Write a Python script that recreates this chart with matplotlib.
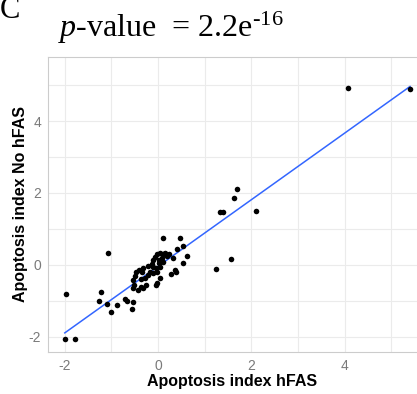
#!/usr/bin/env python3
"""Scatter of apoptosis index with and without hFAS, with linear fit."""
import matplotlib
matplotlib.use("Agg")
import matplotlib.pyplot as plt
import numpy as np

# apoptosis index values
hfas = [
    -2.00, -1.78, -1.97, -1.07, -1.22, -1.26, -1.10, -1.01, -0.89, -0.70,
    -0.67, -0.53, -0.57,
    0.11, 0.46, 0.40, 0.54, 0.62, 0.54, 0.31, 0.37, 0.39, 0.27,
    0.04, -0.03, -0.05, -0.26, -0.32, -0.37, -0.44, -0.53, -0.52, -0.53,
    -0.49, -0.47, -0.42, -0.35, -0.37, -0.28, -0.32, -0.21, -0.14, -0.10,
    -0.06, -0.03, 0.04, 0.10, 0.15, 0.20, 0.24, 0.08, 0.01, 0.03,
    0.11, -0.10, -0.04, 0.04, -0.17, -0.10, -0.21, -0.03,
    1.24, 1.57, 1.33, 1.40, 2.09, 1.62, 1.69, 4.08, 5.40,
]
no_hfas = [
    -2.06, -2.06, -0.81, 0.34, -0.76, -0.99, -1.08, -1.30, -1.10, -0.95,
    -0.99, -1.04, -1.23,
    0.76, 0.74, 0.44, 0.54, 0.26, 0.05, 0.19, -0.14, -0.21, -0.26,
    -0.35, -0.51, -0.56, -0.57, -0.65, -0.60, -0.69, -0.65, -0.56, -0.42,
    -0.30, -0.19, -0.14, -0.19, -0.39, -0.37, -0.09, -0.02, 0.02, 0.14,
    0.23, 0.30, 0.32, 0.30, 0.32, 0.26, 0.30, 0.19, 0.14, 0.05,
    0.09, -0.05, -0.09, -0.07, -0.19, -0.23, -0.28, -0.19,
    -0.12, 0.16, 1.46, 1.46, 1.50, 1.85, 2.11, 4.91, 4.88,
]

x_ticks = [-2, 0, 2, 4]
y_ticks = [-2, 0, 2, 4]
title_text = r"$\mathit{p}$-value  = 2.2e$^{\text{-16}}$"
panel_letter = "C"

plt.rcParams["mathtext.fontset"] = "custom"
plt.rcParams["mathtext.rm"] = "Liberation Serif"
plt.rcParams["mathtext.it"] = "Liberation Serif:italic"
plt.rcParams["axes.unicode_minus"] = False

fig = plt.figure(figsize=(4.17, 3.94), dpi=100)
ax = fig.add_axes([48 / 417, 42 / 394, 1 - 48 / 417, (352 - 57) / 394])

x = np.array(hfas)
y = np.array(no_hfas)
slope, intercept = np.polyfit(x, y, 1)
xs = np.array([x.min(), x.max()])

ax.scatter(x, y, s=16, color="black", linewidths=0, zorder=3)
ax.plot(xs, slope * xs + intercept, color="#3366FF", lw=1.1, zorder=2)

ax.set_xlim(-2.36, 5.55)
ax.set_ylim(-2.42, 5.78)
ax.set_xticks(x_ticks)
ax.set_yticks(y_ticks)
ax.set_xticks([-1, 1, 3, 5], minor=True)
ax.set_yticks([-1, 1, 3, 5], minor=True)
ax.grid(True, which="both", color="#ebebeb", lw=0.8)
ax.set_axisbelow(True)
ax.tick_params(which="both", length=0, labelsize=10, labelcolor="#7a7a7a", pad=5)

for side in ["left", "bottom", "top"]:
    ax.spines[side].set_color("#cccccc")
    ax.spines[side].set_linewidth(0.8)
ax.spines["right"].set_visible(False)

ax.set_xlabel("Apoptosis index hFAS", fontsize=11.5, fontweight="bold",
              family="Liberation Sans", labelpad=1)
ax.set_ylabel("Apoptosis index No hFAS", fontsize=11.5, fontweight="bold",
              family="Liberation Sans")
ax.yaxis.set_label_coords(-0.054, 0.5)
for lab in ax.get_xticklabels() + ax.get_yticklabels():
    lab.set_family("Liberation Sans")

fig.text(58 / 417, 1 - 37 / 394, title_text, fontsize=23,
         family="Liberation Serif", va="baseline", ha="left")
fig.text(0.0, 1 - 18 / 394, panel_letter, fontsize=22,
         family="Liberation Serif", va="baseline", ha="left")

fig.savefig("out.png", dpi=100)
